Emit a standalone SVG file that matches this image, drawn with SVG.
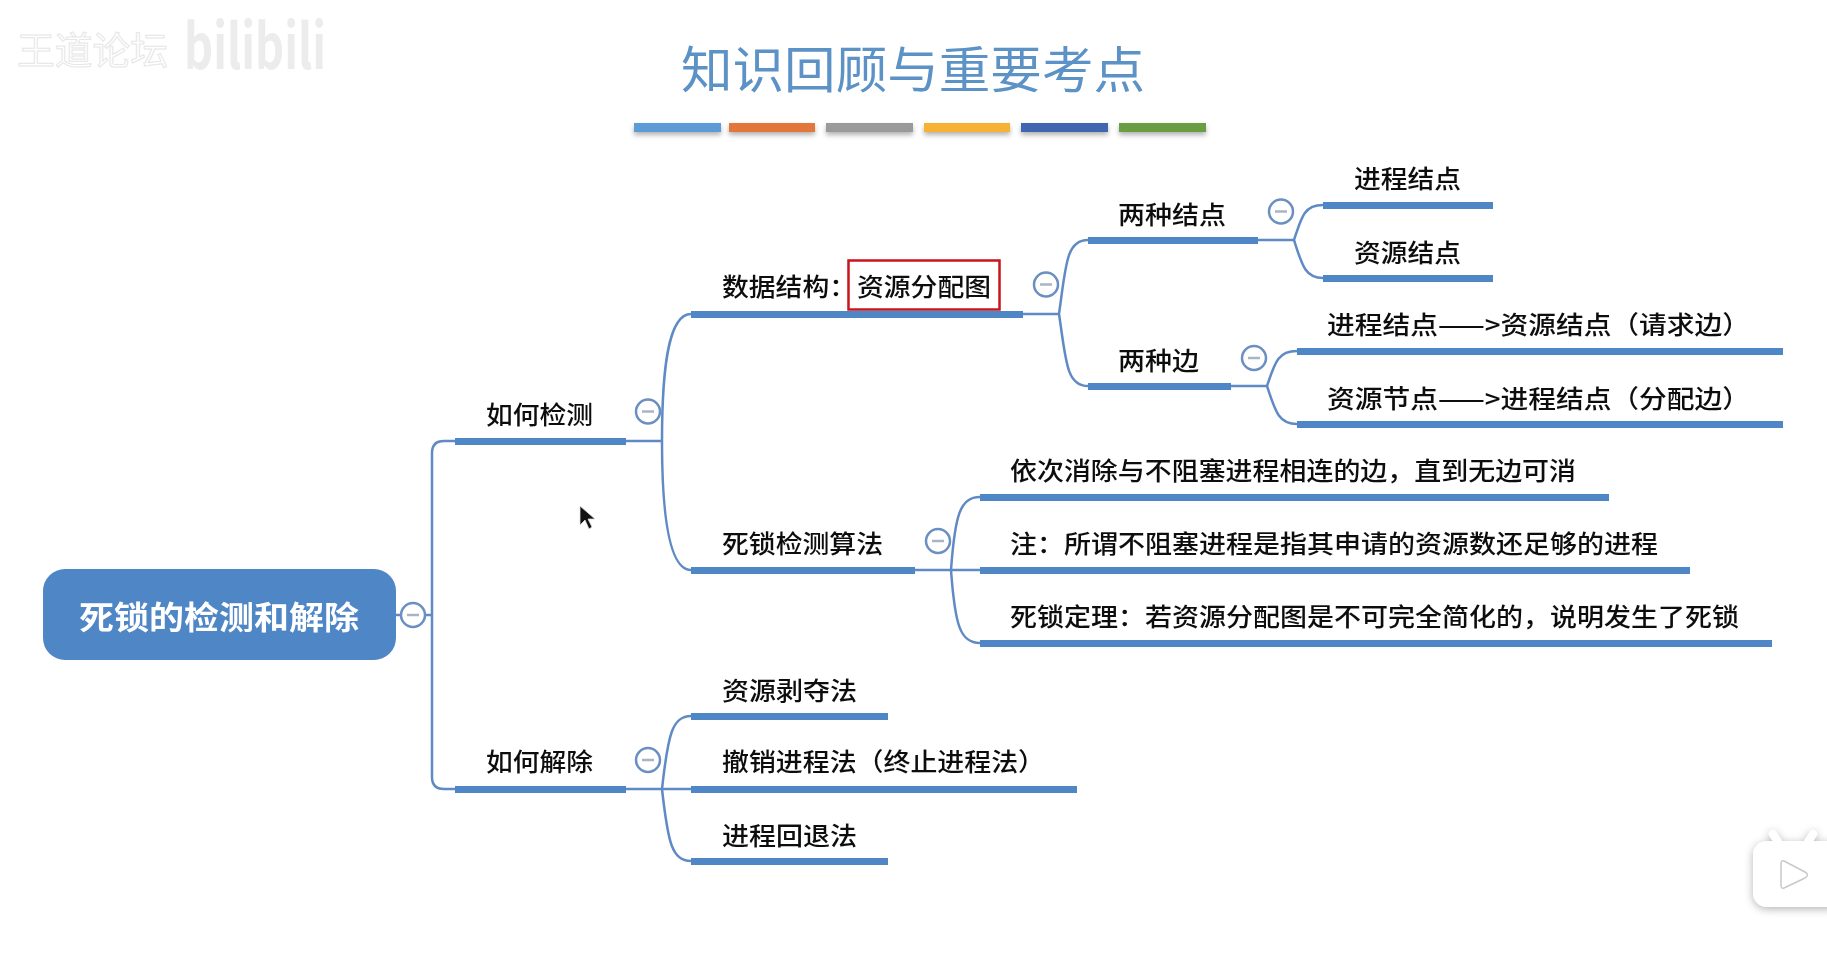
<svg xmlns="http://www.w3.org/2000/svg" width="1827" height="954" viewBox="0 0 1827 954">
<style>
text{font-family:"Noto Sans CJK SC","Noto Sans",sans-serif}
.t{font-size:25px;fill:#111;font-weight:500}
.bar{fill:#4f86c6}
.c{fill:none;stroke:#5f8ac4;stroke-width:2.5}
.tg circle{fill:#fff;stroke:#6a8fc0;stroke-width:2.5}
.tg line{stroke:#a8b4c4;stroke-width:2.5}
.soft{filter:url(#soft)}
</style>
<defs>
<filter id="soft" x="-5%" y="-20%" width="110%" height="140%"><feGaussianBlur stdDeviation="0.6"/></filter>
<filter id="sh" x="-20%" y="-50%" width="140%" height="250%"><feDropShadow dx="0" dy="3" stdDeviation="2.5" flood-color="#000" flood-opacity="0.3"/></filter>
<filter id="tv" x="-30%" y="-30%" width="160%" height="160%"><feDropShadow dx="0" dy="2" stdDeviation="4" flood-color="#000" flood-opacity="0.3"/></filter>
</defs>
<rect width="1827" height="954" fill="#fff"/>
<g id="watermark">
<text x="17" y="64" font-size="38" fill="#fff" stroke="#e6e6e6" stroke-width="1" textLength="151" lengthAdjust="spacingAndGlyphs">王道论坛</text>
<text x="184" y="69" font-size="62" font-weight="700" fill="#ececec" textLength="142" lengthAdjust="spacingAndGlyphs">bilibili</text>
</g>
<g id="title" class="soft">
<text x="681" y="88" font-size="50" fill="#5b92c5" textLength="464" lengthAdjust="spacingAndGlyphs">知识回顾与重要考点</text>
</g>
<g id="title-bars" filter="url(#sh)">
<rect x="634" y="123" width="87" height="9" fill="#5b9bd5"/>
<rect x="729" y="123" width="86" height="9" fill="#e2763a"/>
<rect x="826" y="123" width="87" height="9" fill="#9a9a9a"/>
<rect x="924" y="123" width="86" height="9" fill="#f6b233"/>
<rect x="1021" y="123" width="87" height="9" fill="#3f66b0"/>
<rect x="1119" y="123" width="87" height="9" fill="#6b9e42"/>
</g>
<g id="connectors" class="soft">
<path class="c" d="M396 615H432M455 441H444Q432 441 432 453V777Q432 789 444 789H455"/>
<path class="c" d="M626 441H662M691 314C668 314 662 370 662 441C662 510 668 570 691 570"/>
<path class="c" d="M1023 314H1059M1088 240C1066 240 1066 265 1059 314C1066 360 1066 386 1088 386"/>
<path class="c" d="M1258 240H1294M1323 205C1305 205 1302 215 1294 240C1302 265 1305 278 1323 278"/>
<path class="c" d="M1231 386H1267M1297 351C1278 351 1275 362 1267 386C1275 410 1278 424 1297 424"/>
<path class="c" d="M915 570H951M980 497C960 497 955 515 951 570C955 625 960 643 980 643M951 570H980"/>
<path class="c" d="M626 789H662M691 716C672 716 668 735 662 789C668 843 672 861 691 861M662 789H691"/>
</g>
<g id="root" class="soft">
<rect x="43" y="569" width="353" height="91" rx="22" fill="#4f86c6"/>
<text x="79" y="629" font-size="32" font-weight="700" fill="#fff" textLength="280" lengthAdjust="spacingAndGlyphs">死锁的检测和解除</text>
<g class="tg"><circle cx="413" cy="615" r="12"/><line x1="407" y1="615" x2="419" y2="615"/></g>
</g>
<g id="n-detect" class="soft">
<rect class="bar" x="455" y="438" width="171" height="7"/>
<text class="t" x="486" y="424" textLength="107" lengthAdjust="spacingAndGlyphs">如何检测</text>
<g class="tg"><circle cx="648" cy="411.500" r="12"/><line x1="642" y1="411.500" x2="654" y2="411.500"/></g>
</g>
<g id="n-struct" class="soft">
<rect class="bar" x="691" y="311" width="332" height="7"/>
<text class="t" x="722" y="296" textLength="134" lengthAdjust="spacingAndGlyphs">数据结构：</text>
<rect x="848.500" y="260.500" width="151" height="49" fill="#fff" stroke="#c8161d" stroke-width="2.500"/>
<text class="t" x="857" y="296" textLength="134" lengthAdjust="spacingAndGlyphs">资源分配图</text>
<g class="tg"><circle cx="1046" cy="284.500" r="12"/><line x1="1040" y1="284.500" x2="1052" y2="284.500"/></g>
</g>
<g id="n-two-nodes" class="soft">
<rect class="bar" x="1088" y="237" width="170" height="7"/>
<text class="t" x="1118" y="224" textLength="108" lengthAdjust="spacingAndGlyphs">两种结点</text>
<g class="tg"><circle cx="1281" cy="211.500" r="12"/><line x1="1275" y1="211.500" x2="1287" y2="211.500"/></g>
</g>
<g id="n-proc-node" class="soft">
<rect class="bar" x="1323" y="202" width="170" height="7"/>
<text class="t" x="1354" y="188" textLength="107" lengthAdjust="spacingAndGlyphs">进程结点</text>
</g>
<g id="n-res-node" class="soft">
<rect class="bar" x="1323" y="275" width="170" height="7"/>
<text class="t" x="1354" y="262" textLength="107" lengthAdjust="spacingAndGlyphs">资源结点</text>
</g>
<g id="n-two-edges" class="soft">
<rect class="bar" x="1088" y="383" width="143" height="7"/>
<text class="t" x="1118" y="370" textLength="81" lengthAdjust="spacingAndGlyphs">两种边</text>
<g class="tg"><circle cx="1254" cy="358" r="12"/><line x1="1248" y1="358" x2="1260" y2="358"/></g>
</g>
<g id="n-req-edge" class="soft">
<rect class="bar" x="1297" y="348" width="486" height="7"/>
<text class="t" x="1327" y="334" textLength="423" lengthAdjust="spacingAndGlyphs">进程结点——&gt;资源结点（请求边）</text>
</g>
<g id="n-alloc-edge" class="soft">
<rect class="bar" x="1297" y="421" width="486" height="7"/>
<text class="t" x="1327" y="408" textLength="423" lengthAdjust="spacingAndGlyphs">资源节点——&gt;进程结点（分配边）</text>
</g>
<g id="n-algo" class="soft">
<rect class="bar" x="691" y="567" width="224" height="7"/>
<text class="t" x="722" y="553" textLength="161" lengthAdjust="spacingAndGlyphs">死锁检测算法</text>
<g class="tg"><circle cx="938" cy="541" r="12"/><line x1="932" y1="541" x2="944" y2="541"/></g>
</g>
<g id="n-algo-1" class="soft">
<rect class="bar" x="980" y="494" width="629" height="7"/>
<text class="t" x="1010" y="480" textLength="566" lengthAdjust="spacingAndGlyphs">依次消除与不阻塞进程相连的边，直到无边可消</text>
</g>
<g id="n-algo-2" class="soft">
<rect class="bar" x="980" y="567" width="710" height="7"/>
<text class="t" x="1010" y="553" textLength="648" lengthAdjust="spacingAndGlyphs">注：所谓不阻塞进程是指其申请的资源数还足够的进程</text>
</g>
<g id="n-algo-3" class="soft">
<rect class="bar" x="980" y="640" width="792" height="7"/>
<text class="t" x="1010" y="626" textLength="729" lengthAdjust="spacingAndGlyphs">死锁定理：若资源分配图是不可完全简化的，说明发生了死锁</text>
</g>
<g id="n-resolve" class="soft">
<rect class="bar" x="455" y="786" width="171" height="7"/>
<text class="t" x="486" y="771" textLength="107" lengthAdjust="spacingAndGlyphs">如何解除</text>
<g class="tg"><circle cx="648" cy="760" r="12"/><line x1="642" y1="760" x2="654" y2="760"/></g>
</g>
<g id="n-preempt" class="soft">
<rect class="bar" x="691" y="713" width="197" height="7"/>
<text class="t" x="722" y="700" textLength="135" lengthAdjust="spacingAndGlyphs">资源剥夺法</text>
</g>
<g id="n-kill" class="soft">
<rect class="bar" x="691" y="786" width="386" height="7"/>
<text class="t" x="722" y="771" textLength="323" lengthAdjust="spacingAndGlyphs">撤销进程法（终止进程法）</text>
</g>
<g id="n-rollback" class="soft">
<rect class="bar" x="691" y="858" width="197" height="7"/>
<text class="t" x="722" y="845" textLength="135" lengthAdjust="spacingAndGlyphs">进程回退法</text>
</g>
<polygon id="cursor" points="580,506 580,525 585,520 589,529 592,527 588,519 595,519" fill="#111" stroke="#ddd" stroke-width="0.8"/>
<g id="player">
<g filter="url(#tv)">
<path d="M1778 842L1773 834M1808 842L1813 834" stroke="#fff" stroke-width="8" stroke-linecap="round" fill="none"/>
<rect x="1753" y="841" width="90" height="66" rx="14" fill="#fff"/>
</g>
<path d="M1784 861L1805 872Q1810 875 1805 878L1784 888Q1781 889 1781 885V864Q1781 860 1784 861Z" fill="#fff" stroke="#c9c9c9" stroke-width="1.500"/>
</g>
</svg>
